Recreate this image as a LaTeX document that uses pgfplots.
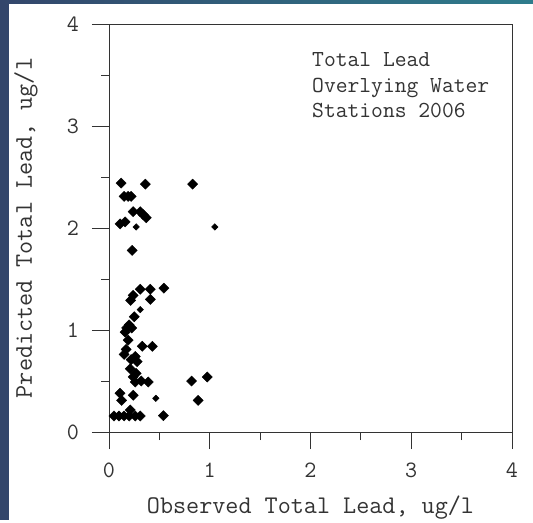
\documentclass[border=0pt]{standalone}
\usepackage{pgfplots}
\pgfplotsset{compat=1.18}
\definecolor{slideblue}{HTML}{33466B}
\definecolor{slideteal}{HTML}{2E7C8C}
\definecolor{axgray}{HTML}{333333}
\begin{document}
\ttfamily
\begin{tikzpicture}[x=1bp,y=1bp]
\fill[white] (0,0) rectangle (533,520);
\fill[slideblue] (0,0) rectangle (9,520);
\shade[left color=slideblue, right color=slideteal] (0,516) rectangle (533,520);
\begin{axis}[
  at={(109bp,88bp)}, anchor=south west,
  scale only axis, width=403bp, height=408bp,
  xmin=0, xmax=4, ymin=0, ymax=4,
  xtick={0,1,2,3,4}, ytick={0,1,2,3,4},
  minor x tick num=1, minor y tick num=1,
  xtick pos=bottom, ytick pos=left,
  tick align=outside,
  major tick length=17bp, minor tick length=8bp,
  every tick/.style={axgray, line width=0.9pt},
  axis line style={axgray, line width=0.9pt},
  tick label style={font=\ttfamily\fontsize{23.5}{26}\selectfont, text=black!80},
  /pgf/number format/assume math mode=true,
  xticklabel style={anchor=center, yshift=-21bp},
  yticklabel style={anchor=center, xshift=-19bp},
  xlabel={Observed Total Lead, ug/l},
  ylabel={Predicted Total Lead, ug/l},
  label style={font=\ttfamily\fontsize{25.5}{27}\selectfont, text=black!80},
  xlabel style={at={(axis description cs:0.5,-0.185)}, anchor=center},
  ylabel style={at={(axis description cs:-0.206,0.5)}, anchor=center},
  clip=false,
]
\addplot[only marks, mark=square*, mark size=3.6bp, mark options={rotate=45, fill=black, draw=black}] coordinates {
(0.12,2.44) (0.36,2.43) (0.83,2.43)
(0.15,2.31) (0.19,2.31) (0.22,2.31)
(0.24,2.16) (0.31,2.16) (0.34,2.13) (0.37,2.10)
(0.11,2.04) (0.16,2.06)
(0.23,1.78)
(0.545,1.41) (0.31,1.40) (0.41,1.40) (0.41,1.30)
(0.24,1.34) (0.215,1.29)
(0.25,1.13) (0.20,1.05) (0.175,1.02) (0.225,1.02)
(0.16,0.98) (0.19,0.90) (0.17,0.81)
(0.33,0.84) (0.43,0.84)
(0.15,0.76) (0.26,0.74) (0.28,0.69) (0.22,0.71)
(0.21,0.62) (0.27,0.575) (0.24,0.54)
(0.26,0.49) (0.32,0.50) (0.39,0.49)
(0.82,0.50) (0.975,0.54)
(0.11,0.38) (0.125,0.31) (0.24,0.36)
(0.885,0.31)
(0.05,0.157) (0.10,0.157) (0.15,0.157) (0.20,0.157) (0.26,0.157) (0.31,0.157)
(0.21,0.216) (0.54,0.16)
};
\addplot[only marks, mark=square*, mark size=2.3bp, mark options={rotate=45, fill=black, draw=black}] coordinates {
(0.27,2.01) (1.05,2.01) (0.31,1.20) (0.465,0.33)
};
\node[anchor=base west, font=\ttfamily\fontsize{23}{25}\selectfont, text=black!80, inner sep=0pt] at (axis cs:2.015,3.58) {Total Lead};
\node[anchor=base west, font=\ttfamily\fontsize{23}{25}\selectfont, text=black!80, inner sep=0pt] at (axis cs:2.015,3.325) {Overlying Water};
\node[anchor=base west, font=\ttfamily\fontsize{23}{25}\selectfont, text=black!80, inner sep=0pt] at (axis cs:2.015,3.08) {Stations 2006};
\end{axis}
\end{tikzpicture}
\end{document}
